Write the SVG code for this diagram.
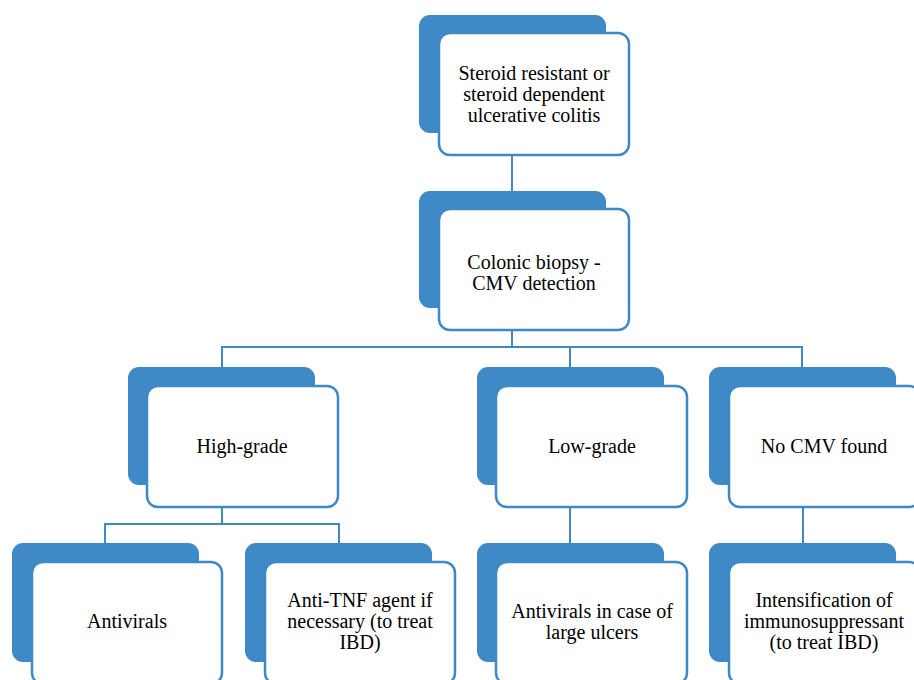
<svg xmlns="http://www.w3.org/2000/svg" width="914" height="680" viewBox="0 0 914 680">
<style>
.back{fill:#3F89C7;}
.front{fill:#fff;stroke:#3F89C7;stroke-width:2.5;}
.conn{fill:none;stroke:#3F89C7;stroke-width:2;}
text{font-family:"Liberation Serif","Times New Roman",serif;font-size:20px;fill:#000;text-anchor:middle;}
</style>
<rect width="914" height="680" fill="#fff"/>
<g id="connectors">
<path class="conn" d="M512,155 V191"/>
<path class="conn" d="M512,330 V347 M222,367 V347 H802 V367 M570,347 V367"/>
<path class="conn" d="M222,507 V524 M105,543 V524 H339 V543"/>
<path class="conn" d="M570,507 V543"/>
<path class="conn" d="M803,507 V543"/>
</g>
<g id="n1">
<rect class="back" x="419" y="15" width="187" height="118" rx="11"/>
<rect class="front" x="439" y="33" width="190" height="122" rx="11"/>
<text x="534" y="80">Steroid resistant or</text>
<text x="534" y="101">steroid dependent</text>
<text x="534" y="122">ulcerative colitis</text>
</g>
<g id="n2">
<rect class="back" x="419" y="191" width="187" height="117" rx="11"/>
<rect class="front" x="439" y="209" width="190" height="121" rx="11"/>
<text x="534" y="269">Colonic biopsy -</text>
<text x="534" y="290">CMV detection</text>
</g>
<g id="n3">
<rect class="back" x="128" y="367" width="187" height="118" rx="11"/>
<rect class="front" x="147" y="386" width="191" height="121" rx="11"/>
<text x="242" y="453">High-grade</text>
</g>
<g id="n4">
<rect class="back" x="477" y="367" width="187" height="118" rx="11"/>
<rect class="front" x="496" y="386" width="191" height="121" rx="11"/>
<text x="592" y="453">Low-grade</text>
</g>
<g id="n5">
<rect class="back" x="709" y="367" width="187" height="118" rx="11"/>
<rect class="front" x="729" y="386" width="191" height="121" rx="11"/>
<text x="824" y="453">No CMV found</text>
</g>
<g id="n6">
<rect class="back" x="12" y="543" width="187" height="119" rx="11"/>
<rect class="front" x="32" y="562" width="190" height="122" rx="11"/>
<text x="127" y="628">Antivirals</text>
</g>
<g id="n7">
<rect class="back" x="245" y="543" width="187" height="119" rx="11"/>
<rect class="front" x="265" y="562" width="190" height="122" rx="11"/>
<text x="360" y="607">Anti-TNF agent if</text>
<text x="360" y="628">necessary (to treat</text>
<text x="360" y="649">IBD)</text>
</g>
<g id="n8">
<rect class="back" x="477" y="543" width="187" height="119" rx="11"/>
<rect class="front" x="496" y="562" width="191" height="122" rx="11"/>
<text x="592" y="618">Antivirals in case of</text>
<text x="592" y="639">large ulcers</text>
</g>
<g id="n9">
<rect class="back" x="709" y="543" width="187" height="119" rx="11"/>
<rect class="front" x="729" y="562" width="191" height="122" rx="11"/>
<text x="824" y="607">Intensification of</text>
<text x="824" y="628">immunosuppressant</text>
<text x="824" y="649">(to treat IBD)</text>
</g>
</svg>
